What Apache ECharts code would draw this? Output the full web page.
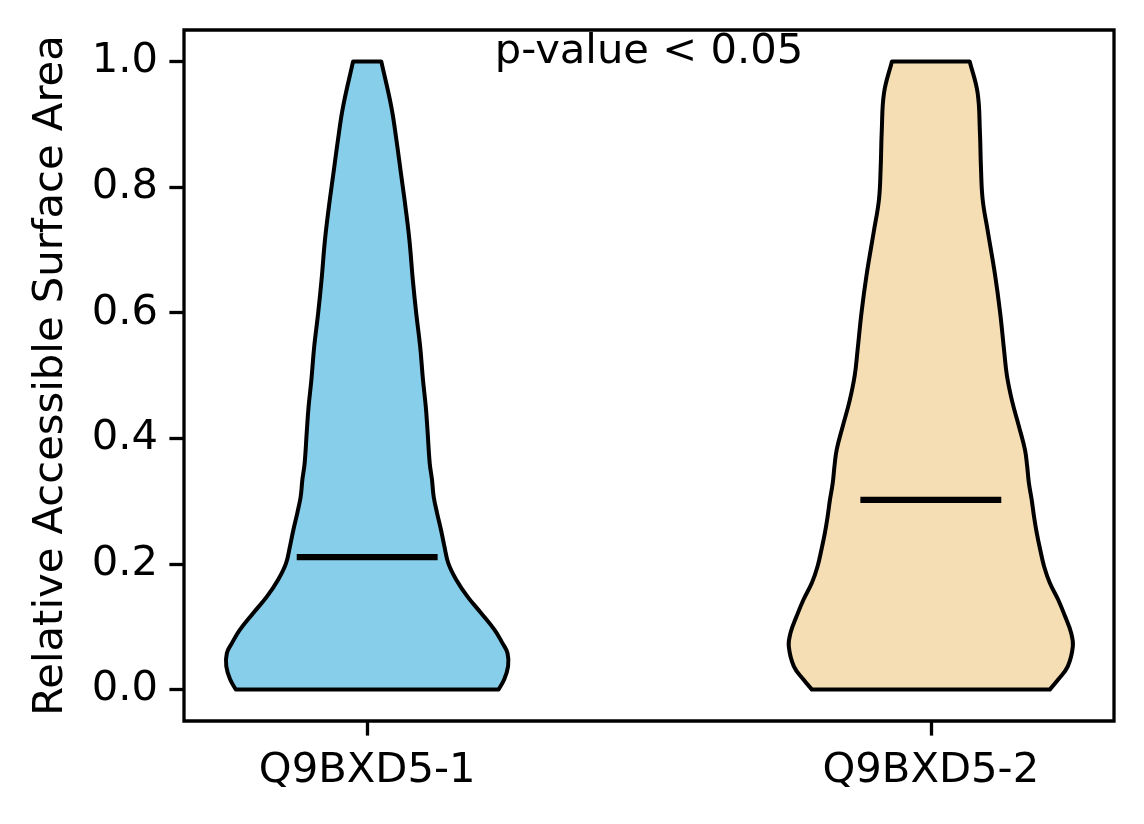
<!DOCTYPE html>
<html>
<head>
<meta charset="utf-8">
<script src="https://cdn.jsdelivr.net/npm/echarts@6/dist/echarts.min.js"></script>
<style>
  html, body { margin: 0; padding: 0; background: #fff; }
  #chart { width: 1144px; height: 824px; }
</style>
</head>
<body>
<div id="chart"></div>
<script>
// categories and their x positions
var categories = ['Q9BXD5-1', 'Q9BXD5-2'];
var positions = [1, 2];
var yTicks = [0, 0.2, 0.4, 0.6, 0.8, 1.0];
var medians = [0.211, 0.302];
var pText = 'p-value < 0.05';
var pPos = [1.5, 1.0];

// violin 1: y values and half widths (x axis units)
var ys1 = [0.000, 0.016, 0.037, 0.058, 0.074, 0.095, 0.122, 0.148, 0.175, 0.201, 0.228, 0.254, 0.281, 0.307, 0.334, 0.360, 0.413, 0.450, 0.493, 0.546, 0.599, 0.652, 0.715, 0.768, 0.821, 0.874, 0.927, 1.000];
var hw1 = [0.233, 0.243, 0.250, 0.249, 0.240, 0.226, 0.202, 0.178, 0.158, 0.144, 0.137, 0.131, 0.124, 0.118, 0.115, 0.111, 0.107, 0.104, 0.099, 0.094, 0.087, 0.081, 0.075, 0.068, 0.060, 0.052, 0.043, 0.025];

// violin 2
var ys2 = [0.000, 0.016, 0.037, 0.069, 0.090, 0.117, 0.143, 0.170, 0.196, 0.223, 0.249, 0.276, 0.302, 0.329, 0.355, 0.382, 0.42, 0.46, 0.50, 0.54, 0.60, 0.66, 0.73, 0.78, 0.83, 0.89, 0.95, 1.00];
var hw2 = [0.211, 0.226, 0.243, 0.252, 0.249, 0.238, 0.226, 0.211, 0.201, 0.194, 0.188, 0.183, 0.179, 0.174, 0.171, 0.167, 0.156, 0.144, 0.135, 0.130, 0.123, 0.114, 0.101, 0.092, 0.089, 0.087, 0.083, 0.069];

var violins = [
  { ys: ys1, hw: hw1, color: '#87ceeb' },
  { ys: ys2, hw: hw2, color: '#f5deb3' }
];

var font = 'DejaVu Sans';
var fs = 41.7;

// outline: right side up, left side down; corners doubled so the caps stay flat
function violinRender(v, pos) {
  return function (params, api) {
    var n = v.ys.length, pts = [];
    for (var i = 0; i < n; i++) {
      var p = api.coord([pos + v.hw[i], v.ys[i]]);
      pts.push(p);
      if (i === 0 || i === n - 1) pts.push(p.slice());
    }
    for (var j = n - 1; j >= 0; j--) {
      var q = api.coord([pos - v.hw[j], v.ys[j]]);
      pts.push(q);
      if (j === 0 || j === n - 1) pts.push(q.slice());
    }
    return {
      type: 'polygon',
      shape: { points: pts, smooth: 0.4 },
      style: { fill: v.color, stroke: '#000', lineWidth: 4, lineJoin: 'round' }
    };
  };
}

function medianRender(params, api) {
  var x = api.value(0), y = api.value(1);
  var a = api.coord([x - 0.125, y]);
  var b = api.coord([x + 0.125, y]);
  return {
    type: 'line',
    shape: { x1: a[0], y1: a[1], x2: b[0], y2: b[1] },
    style: { stroke: '#000', lineWidth: 6.25 }
  };
}

var series = [];
violins.forEach(function (v, k) {
  series.push({
    type: 'custom',
    renderItem: violinRender(v, positions[k]),
    data: [[positions[k], medians[k]]],
    encode: { x: 0, y: 1 },
    silent: true,
    z: 2
  });
});
series.push({
  type: 'custom',
  renderItem: medianRender,
  data: positions.map(function (p, k) { return [p, medians[k]]; }),
  encode: { x: 0, y: 1 },
  silent: true,
  z: 3
});
series.push({
  type: 'custom',
  renderItem: function (params, api) {
    var c = api.coord([api.value(0), api.value(1)]);
    return {
      type: 'text',
      style: {
        text: pText, x: c[0], y: c[1] - 9,
        font: fs + 'px "' + font + '"',
        fill: '#000', align: 'center', verticalAlign: 'middle'
      }
    };
  },
  data: [pPos],
  encode: { x: 0, y: 1 },
  silent: true,
  z: 4
});

var chart = echarts.init(document.getElementById('chart'), null, { renderer: 'canvas' });
chart.setOption({
  animation: false,
  backgroundColor: '#fff',
  grid: {
    left: 184, right: 30, top: 30, bottom: 103,
    show: true, borderColor: '#000', borderWidth: 3.3, backgroundColor: 'transparent'
  },
  xAxis: {
    type: 'value', min: 0.675, max: 2.325,
    axisLine: { show: false, onZero: false },
    splitLine: { show: false },
    axisTick: { show: true, customValues: positions, length: 14.6, lineStyle: { color: '#000', width: 3.3 } },
    axisLabel: {
      customValues: positions, margin: 29,
      color: '#000', fontFamily: font, fontSize: fs,
      formatter: function (v) { return categories[positions.indexOf(v)]; }
    }
  },
  yAxis: {
    type: 'value', min: -0.05, max: 1.05,
    name: 'Relative Accessible Surface Area',
    nameLocation: 'middle', nameRotate: 90, nameGap: 112,
    nameTextStyle: { color: '#000', fontFamily: font, fontSize: fs },
    axisLine: { show: false, onZero: false },
    splitLine: { show: false },
    axisTick: { show: true, customValues: yTicks, length: 14.6, lineStyle: { color: '#000', width: 3.3 } },
    axisLabel: {
      customValues: yTicks, margin: 26,
      color: '#000', fontFamily: font, fontSize: fs,
      formatter: function (v) { return v.toFixed(1); }
    }
  },
  series: series
});
</script>
</body>
</html>
